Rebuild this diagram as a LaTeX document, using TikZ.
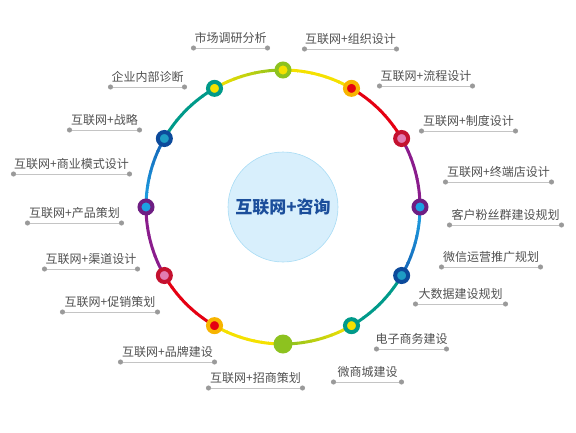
\documentclass[tikz,border=0pt]{standalone}
\usepackage{fontspec}
\newfontfamily\cjk{Noto Sans CJK SC}
\usetikzlibrary{arrows.meta}
\definecolor{yel}{HTML}{F5E100}
\definecolor{grn}{HTML}{8DC21F}
\definecolor{red}{HTML}{E50012}
\definecolor{org}{HTML}{F7B400}
\definecolor{crm}{HTML}{C4112F}
\definecolor{pnk}{HTML}{E27BB2}
\definecolor{pur}{HTML}{8A1C8C}
\definecolor{purd}{HTML}{6E1E83}
\definecolor{cyn}{HTML}{1DA1E3}
\definecolor{blu}{HTML}{1566B8}
\definecolor{nav}{HTML}{0C4A9B}
\definecolor{tea}{HTML}{009A8A}
\definecolor{cynt}{HTML}{1E9CC4}
\definecolor{hubfill}{HTML}{D8EFFC}
\definecolor{hubedge}{HTML}{A8DCF5}
\definecolor{hubtext}{HTML}{1B4E9B}
\definecolor{labelgray}{HTML}{505050}
\definecolor{linegray}{HTML}{C4C4C4}
\definecolor{dotgray}{HTML}{9A9A9A}
\tikzset{
  tag/.style={font=\cjk\fontsize{12}{14}\selectfont, text=labelgray, anchor=base, inner sep=0pt},
  uline/.style={draw=linegray, line width=0.9pt, {Circle[length=5pt,color=dotgray]}-{Circle[length=5pt,color=dotgray]}},
  ring/.style={line width=3pt},
  dot/.style 2 args={circle, draw=#1, fill=#2, line width=4pt, minimum size=13pt, inner sep=0pt}
}
\begin{document}
\begin{tikzpicture}[x=1pt,y=-1pt]
    \useasboundingbox (0,0) rectangle (576,432);
    \coordinate (c) at (283,207);
    \node[circle, fill=hubfill, draw=hubedge, line width=0.6pt, minimum size=110pt, inner sep=0pt,
          font=\cjk\bfseries\fontsize{17}{20}\selectfont, text=hubtext] (hub) at (c) {互联网+咨询};
    % ring, each piece shaded from one colour to the next
    \begin{scope}[shift={(c)}]
    \foreach \a/\ca/\cb in {120/yel/grn, 90/yel/yel, 60/red/red, 30/pur/pur, 0/cyn/blu, -30/tea/tea,
                            -60/yel/grn, -90/yel/yel, -120/red/red, -150/pur/pur, 180/cyn/blu, 150/tea/tea}
      \foreach \k in {0,...,9} {
        \pgfmathtruncatemacro\p{100-\k*100/9}
        \draw[ring, color=\ca!\p!\cb] (\a-\k*3:137pt) arc[start angle=\a-\k*3, end angle=\a-\k*3-3.3, radius=137pt];
      }
    \foreach \a/\co/\ci [count=\i] in {90/grn/yel, 60/org/red, 30/crm/pnk, 0/purd/cyn, -30/nav/cynt, -60/tea/yel,
                                       -120/org/red, -150/crm/pnk, 180/purd/cyn, 150/nav/cynt, 120/tea/yel}
      \node[dot={\co}{\ci}] (d\i) at (\a:137pt) {};
    \node[circle, fill=grn, minimum size=19pt, inner sep=0pt] (d12) at (-90:137pt) {};
    \end{scope}
    % labels with their underlines
    \foreach \xa/\xb/\yy/\txt [count=\i] in {
        193/268/48/市场调研分析, 304/397/49/互联网+组织设计, 379/473/86/互联网+流程设计,
        421/516/131/互联网+制度设计, 445/552/182/互联网+终端店设计, 449/562/225/客户粉丝群建设规划,
        441/541/267/微信运营推广规划, 415/506/304/大数据建设规划, 376/447/349/电子商务建设,
        333/402/382/微商城建设, 208/303/388/互联网+招商策划, 120/215/362/互联网+品牌建设,
        62/158/312/互联网+促销策划, 44/138/269/互联网+渠道设计, 27/122/223/互联网+产品策划,
        13/130/174/互联网+商业模式设计, 69/140/130/互联网+战略, 110/185/87/企业内部诊断} {
      \pgfmathsetmacro\xm{(\xa+\xb)/2}
      \node[tag] (t\i) at (\xm,\yy-5.5) {\txt};
      \coordinate (u\i a) at (\xa-2,\yy);
      \coordinate (u\i b) at (\xb+2,\yy);
      \draw[uline] (u\i a) -- (u\i b);
    }
\end{tikzpicture}
\end{document}
